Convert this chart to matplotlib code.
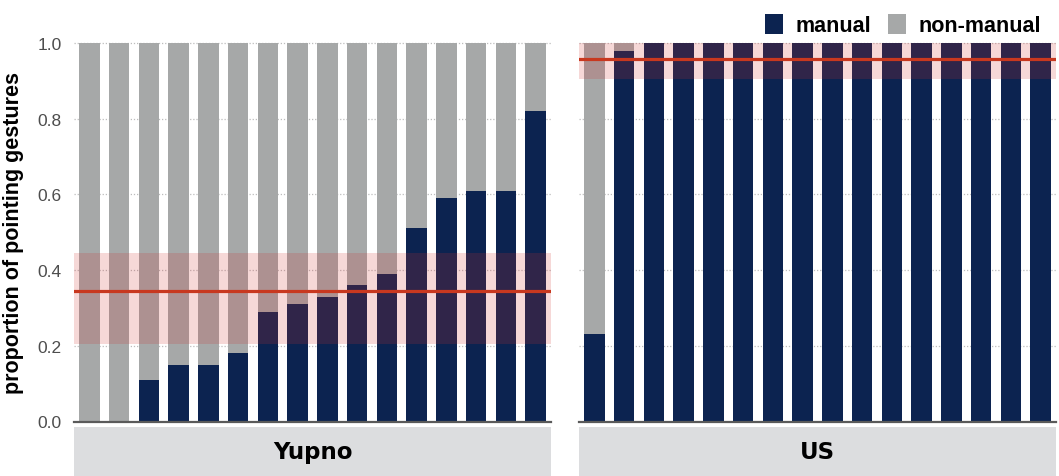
import matplotlib
matplotlib.use("Agg")
import matplotlib.pyplot as plt
from matplotlib.patches import Patch

plt.rcParams['font.family'] = ['Liberation Sans', 'DejaVu Sans']

# proportion of manual pointing gestures per participant
yupno_manual = [0.0, 0.0, 0.11, 0.15, 0.15, 0.18, 0.29, 0.31, 0.33, 0.36, 0.39, 0.51, 0.59, 0.61, 0.61, 0.82]
us_manual = [0.23, 0.98, 1.0, 1.0, 1.0, 1.0, 1.0, 1.0, 1.0, 1.0, 1.0, 1.0, 1.0, 1.0, 1.0, 1.0]

# group mean and interval
yupno_mean, yupno_lo, yupno_hi = 0.345, 0.205, 0.445
us_mean, us_lo, us_hi = 0.957, 0.905, 1.0

groups = ['Yupno', 'US']
yticks = [0.0, 0.2, 0.4, 0.6, 0.8, 1.0]

navy = '#0c2350'
grey = '#a6a8a8'
red = '#c8381f'
strip_col = '#dcdddf'

W, H = 1059, 477
fig = plt.figure(figsize=(W / 100, H / 100), dpi=100)

panels = [
    (74, yupno_manual, yupno_mean, yupno_lo, yupno_hi, groups[0]),
    (579, us_manual, us_mean, us_lo, us_hi, groups[1]),
]
ax_w = 477
y0_px, y1_px = 422.5, 44.0

for left, vals, m, lo, hi, name in panels:
    ax = fig.add_axes([left / W, (H - y0_px) / H, ax_w / W, (y0_px - y1_px) / H * 1.003])
    x = list(range(len(vals)))
    rest = [1 - v for v in vals]
    ax.set_axisbelow(True)
    ax.bar(x, vals, width=0.69, color=navy, zorder=2)
    ax.bar(x, rest, bottom=vals, width=0.69, color=grey, zorder=2)
    ax.axhspan(lo, hi, color='#d0302e', alpha=0.19, lw=0, zorder=3)
    ax.axhline(m, color=red, lw=2.3, zorder=4)
    ax.set_xlim(-0.52, 15.52)
    ax.set_ylim(0, 1.003)
    ax.set_yticks(yticks)
    ax.yaxis.grid(True, linestyle=(0, (1, 1.5)), color='#bdbdbd', lw=0.9)
    for s in ['top', 'right', 'left']:
        ax.spines[s].set_visible(False)
    ax.spines['bottom'].set_color('#5a5a5a')
    ax.spines['bottom'].set_linewidth(1.6)
    ax.spines['bottom'].set_zorder(5)
    ax.set_xticks([])
    ax.tick_params(axis='y', length=0, pad=9, labelsize=12.5, labelcolor='#4d4d4d')
    if name != 'Yupno':
        ax.set_yticklabels([])
    else:
        ax.set_yticklabels(['%.1f' % t for t in yticks])
    # facet strip below the panel
    sax = fig.add_axes([left / W, 0, ax_w / W, (H - 428) / H])
    sax.set_facecolor(strip_col)
    sax.set_xticks([])
    sax.set_yticks([])
    for s in sax.spines.values():
        s.set_visible(False)
    sax.text(0.5, 0.5, name, ha='center', va='center', fontsize=16.5,
             fontweight='bold', family='DejaVu Sans', transform=sax.transAxes)

fig.text(14 / W, 1 - 233 / H, 'proportion of pointing gestures', rotation=90,
         ha='center', va='center', fontsize=15.5, fontweight='bold')

handles = [Patch(facecolor=navy, label='manual'), Patch(facecolor=grey, label='non-manual')]
fig.legend(handles=handles, loc='upper right', bbox_to_anchor=(1052 / W, 1 - 4 / H),
           ncol=2, frameon=False, borderpad=0, handlelength=0.85, handleheight=1.1,
           handletextpad=0.6, columnspacing=0.75,
           prop={'weight': 'bold', 'size': 15.5, 'family': 'Liberation Sans'})

fig.savefig('out.png', dpi=100)
